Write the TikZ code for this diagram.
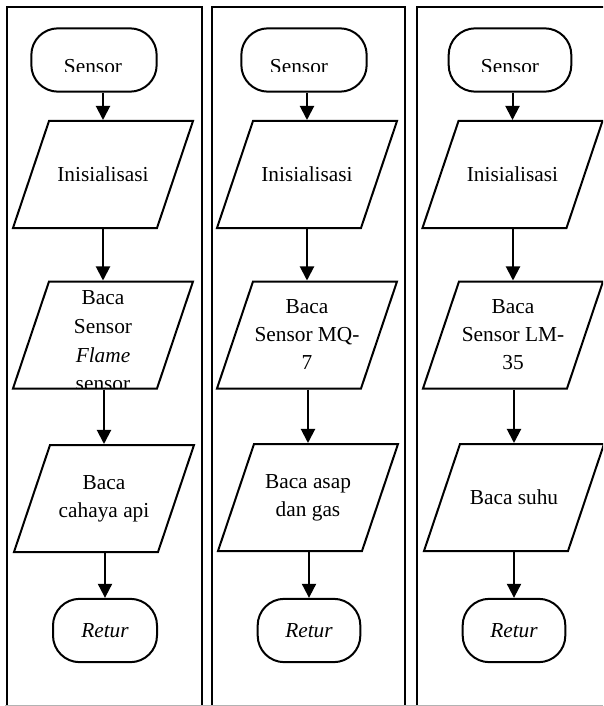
\documentclass[tikz,border=0pt]{standalone}
\usepackage{fontspec}
\setmainfont{Liberation Serif}
\usepackage{tikz}
\usetikzlibrary{positioning, shapes.geometric, arrows.meta}
\newcommand{\boxtext}[1]{\parbox[c][80.25pt][c]{81pt}{\centering\mbox{}#1}}

\tikzset{
    >={Triangle[length=10.5pt, width=10.5pt]},
    lane/.style = {draw, line width=1.3pt},
    terminal/.style = {draw, line width=1.5pt, rectangle, rounded corners=20pt,
        minimum width=#1, minimum height=47.5pt, inner sep=0pt,
        font=\fontsize{16}{21}\selectfont},
    iobox/.style = {draw, line width=1.5pt, trapezium, trapezium left angle=71.4,
        trapezium right angle=108.6, inner sep=0pt,
        font=\fontsize{16}{21}\selectfont},
    plaintext/.style = {inner sep=0pt, align=center, font=\fontsize{16}{21.5}\selectfont},
    flow/.style = {->, line width=1.5pt}
}

\begin{document}
\begin{tikzpicture}[x=0.75pt, y=-0.75pt]
    \useasboundingbox (0, 0) rectangle (603, 706);
    \clip (0, 0) rectangle (603, 706);

    % lanes
    \draw [lane] (7, 7) rectangle (202, 720);
    \draw [lane] (212, 7) rectangle (405, 720);
    \draw [lane] (417, 7) rectangle (620, 720);
    \draw [gray!60, line width=0.8pt] (5, 705.5) -- (603, 705.5);

    % flame sensor
    \node [terminal=94pt] (start1) at (94, 60) {};
    \node [iobox] (init1) at (103, 174.5) {\boxtext{Inisialisasi}};
    \node [iobox] (read1) at (103, 335) {\boxtext{}};
    \node [iobox] (light1) at (104, 498.5) {\boxtext{Baca\\cahaya api}};
    \node [terminal=78pt] (end1) at (105, 630.5) {\textit{Retur}};

    % MQ-7
    \node [terminal=94pt] (start2) at (304, 60) {};
    \node [iobox] (init2) at (307, 174.5) {\boxtext{Inisialisasi}};
    \node [iobox] (read2) at (307, 335) {\boxtext{Baca\\Sensor MQ-\\7}};
    \node [iobox] (smoke2) at (308, 497.5) {\boxtext{Baca asap\\dan gas}};
    \node [terminal=77pt] (end2) at (309, 630.5) {\textit{Retur}};

    % LM-35
    \node [terminal=92pt] (start3) at (510, 60) {};
    \node [iobox] (init3) at (512.5, 174.5) {\boxtext{Inisialisasi}};
    \node [iobox] (read3) at (513, 335) {\boxtext{Baca\\Sensor LM-\\35}};
    \node [iobox] (temp3) at (514, 497.5) {\boxtext{Baca suhu}};
    \node [terminal=77pt] (end3) at (514, 630.5) {\textit{Retur}};

    % texts cut off by their boxes
    \begin{scope}
        \clip (0, 0) rectangle (603, 72);
        \node [plaintext, anchor=base] (start1text) at (93, 74) {Sensor};
        \node [plaintext, anchor=base] (start2text) at (299, 74) {Sensor};
        \node [plaintext, anchor=base] (start3text) at (510, 74) {Sensor};
    \end{scope}
    \begin{scope}
        \clip (0, 0) rectangle (603, 388);
        \node [plaintext] (read1text) at (103, 341) {Baca\\Sensor\\\textit{Flame}\\sensor};
    \end{scope}

    \draw [flow] (init1.center |- start1.south) -- (init1.center |- init1.north);
    \draw [flow] (read1.center |- init1.south) -- (read1.center |- read1.north);
    \draw [flow] (light1.center |- read1.south) -- (light1.center |- light1.north);
    \draw [flow] (end1.north |- light1.south) -- (end1.north);

    \draw [flow] (init2.center |- start2.south) -- (init2.center |- init2.north);
    \draw [flow] (read2.center |- init2.south) -- (read2.center |- read2.north);
    \draw [flow] (smoke2.center |- read2.south) -- (smoke2.center |- smoke2.north);
    \draw [flow] (end2.north |- smoke2.south) -- (end2.north);

    \draw [flow] (init3.center |- start3.south) -- (init3.center |- init3.north);
    \draw [flow] (read3.center |- init3.south) -- (read3.center |- read3.north);
    \draw [flow] (temp3.center |- read3.south) -- (temp3.center |- temp3.north);
    \draw [flow] (end3.north |- temp3.south) -- (end3.north);
\end{tikzpicture}
\end{document}
